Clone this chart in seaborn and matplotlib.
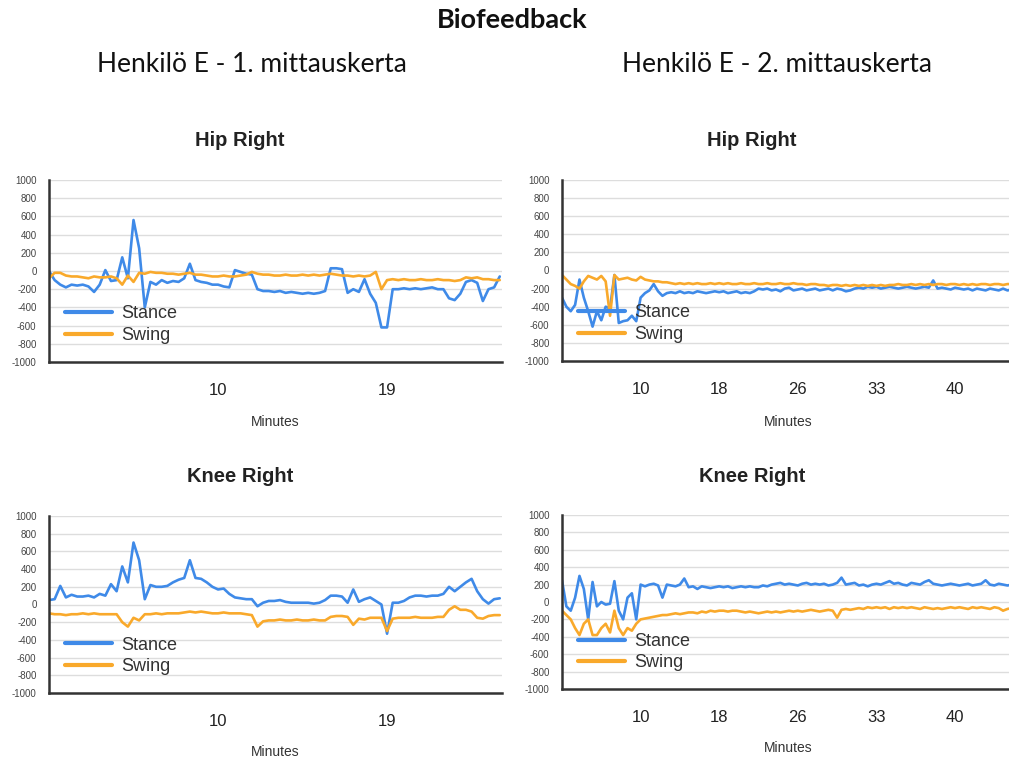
import numpy as np
import pandas as pd
import matplotlib
matplotlib.use("Agg")
import matplotlib.pyplot as plt
import seaborn as sns

# ---------------- data ----------------
main_title = "Biofeedback"
session_titles = ["Henkilö E - 1. mittauskerta", "Henkilö E - 2. mittauskerta"]
joint_titles = ["Hip Right", "Knee Right"]
series_names = ["Stance", "Swing"]
x_label = "Minutes"
y_ticks = [-1000, -800, -600, -400, -200, 0, 200, 400, 600, 800, 1000]

# session 1: 30 samples per tick interval
s1_tick_labels = ["10", "19"]
s1_tick_index = [30, 60]
# session 2: 18 samples per tick interval
s2_tick_labels = ["10", "18", "26", "33", "40"]
s2_tick_index = [18, 36, 54, 72, 90]

hip1_stance = [0, -100, -150, -180, -150, -160, -150, -170, -230, -150,
               10, -110, -100, 150, -80, 560, 250, -400, -120, -150,
               -100, -130, -110, -120, -80, 80, -100, -120, -130, -150,
               -150, -170, -180, 10, -10, -30, -40, -200, -220, -220,
               -230, -220, -240, -230, -240, -250, -240, -250, -240, -220,
               30, 30, 20, -240, -200, -230, -90, -250, -350, -620,
               -620, -200, -200, -190, -200, -190, -200, -190, -180, -200,
               -200, -300, -320, -250, -120, -100, -130, -330, -200, -180, -60]
hip1_swing = [-80, -20, -20, -50, -60, -60, -70, -80, -60, -70,
              -70, -60, -80, -150, -50, -120, -20, -30, -10, -20,
              -20, -30, -30, -40, -30, -20, -40, -40, -50, -60,
              -60, -50, -60, -60, -50, -40, -10, -30, -40, -40,
              -50, -50, -40, -50, -50, -40, -50, -40, -50, -40,
              -30, -40, -50, -50, -60, -50, -60, -50, -10, -200,
              -100, -90, -100, -90, -100, -100, -90, -100, -100, -90,
              -100, -100, -110, -100, -70, -80, -70, -90, -90, -100, -100]
knee1_stance = [50, 60, 210, 80, 110, 90, 90, 100, 80, 120,
                100, 230, 150, 430, 250, 700, 500, 60, 220, 200,
                200, 210, 250, 280, 300, 500, 300, 290, 250, 200,
                170, 180, 120, 80, 70, 60, 60, -20, 20, 40,
                40, 50, 30, 20, 20, 20, 20, 10, 20, 50,
                100, 100, 90, 20, 170, 30, 60, 80, 40, 0,
                -330, 20, 20, 40, 80, 100, 100, 90, 100, 100,
                120, 200, 150, 200, 250, 290, 150, 60, 10, 60, 70]
knee1_swing = [-100, -110, -110, -120, -110, -110, -100, -110, -100, -110,
               -110, -110, -110, -200, -250, -150, -180, -110, -110, -100,
               -110, -100, -100, -100, -90, -80, -90, -80, -90, -100,
               -100, -90, -100, -100, -100, -110, -120, -250, -190, -180,
               -180, -170, -180, -180, -170, -180, -180, -170, -180, -180,
               -140, -130, -130, -140, -230, -160, -170, -150, -150, -150,
               -300, -160, -150, -150, -150, -140, -150, -150, -150, -140,
               -140, -60, -20, -60, -60, -80, -150, -160, -130, -120, -120]

hip2_stance = [-300, -400, -450, -380, -100, -300, -450, -620, -450, -550,
               -400, -420, -50, -580, -560, -550, -500, -560, -300, -250,
               -220, -150, -230, -280, -250, -240, -250, -230, -250, -240,
               -250, -230, -240, -250, -240, -230, -240, -230, -250, -240,
               -230, -250, -240, -250, -230, -200, -210, -200, -220, -210,
               -230, -200, -190, -220, -210, -200, -220, -210, -200, -220,
               -210, -200, -220, -200, -210, -230, -220, -200, -190, -200,
               -180, -190, -180, -200, -190, -180, -190, -200, -190, -180,
               -190, -200, -190, -180, -190, -110, -200, -190, -200, -210,
               -190, -200, -210, -200, -220, -200, -210, -220, -200, -210,
               -220, -200, -220, -210]
hip2_swing = [-50, -100, -150, -170, -200, -120, -60, -80, -100, -60,
              -120, -500, -50, -100, -90, -80, -100, -110, -70, -100,
              -110, -120, -120, -130, -130, -140, -150, -140, -150, -140,
              -150, -140, -150, -150, -140, -150, -140, -150, -140, -150,
              -150, -140, -150, -150, -140, -150, -150, -140, -150, -150,
              -140, -150, -150, -140, -150, -150, -160, -150, -150, -160,
              -160, -170, -160, -160, -170, -160, -170, -160, -170, -160,
              -170, -160, -170, -160, -170, -160, -160, -150, -160, -160,
              -150, -160, -150, -160, -150, -160, -150, -150, -160, -150,
              -150, -160, -150, -160, -150, -160, -150, -150, -160, -150,
              -150, -160, -150, -150]
knee2_stance = [250, -50, -100, 50, 300, 150, -200, 230, -50, 0,
                -30, -20, 240, -100, -200, 50, 100, -200, 200, 180,
                200, 210, 190, 50, 200, 190, 180, 200, 270, 170,
                180, 150, 180, 170, 160, 170, 180, 170, 180, 160,
                170, 180, 170, 180, 170, 170, 190, 180, 200, 210,
                220, 200, 210, 200, 190, 210, 220, 200, 210, 200,
                210, 190, 200, 220, 280, 200, 210, 220, 190, 200,
                180, 200, 210, 200, 220, 240, 210, 220, 200, 190,
                220, 210, 200, 230, 250, 210, 200, 190, 200, 210,
                200, 190, 200, 210, 190, 200, 210, 250, 200, 190,
                210, 200, 190, 200]
knee2_swing = [-100, -150, -200, -300, -380, -250, -200, -380, -380, -300,
               -250, -350, -100, -300, -380, -300, -330, -250, -200, -190,
               -180, -170, -160, -150, -150, -140, -130, -140, -130, -120,
               -120, -130, -110, -120, -100, -110, -100, -100, -110, -100,
               -100, -110, -120, -110, -120, -130, -120, -110, -120, -110,
               -120, -110, -100, -110, -100, -110, -100, -90, -100, -110,
               -100, -90, -100, -180, -90, -80, -90, -80, -70, -80,
               -60, -70, -60, -70, -60, -80, -60, -70, -60, -70,
               -60, -70, -80, -60, -70, -80, -70, -80, -70, -60,
               -70, -60, -70, -80, -60, -70, -60, -70, -80, -60,
               -70, -100, -80, -70]

colors = {"Stance": "#3f8ae8", "Swing": "#f9a92b"}

# ---------------- figure ----------------
sns.set_style("white")
plt.rcParams["font.family"] = ["Liberation Sans", "DejaVu Sans"]

fig = plt.figure(figsize=(10.09, 7.6), dpi=100)

W, H = 1009.0, 760.0
def box(x0, y0, x1, y1):
    return [x0 / W, 1 - y1 / H, (x1 - x0) / W, (y1 - y0) / H]

panels = [
    (box(49, 180, 502, 362), hip1_stance, hip1_swing, s1_tick_index, s1_tick_labels, 80.4),
    (box(562, 180, 1014, 361), hip2_stance, hip2_swing, s2_tick_index, s2_tick_labels, 103.5),
    (box(49, 516, 502, 693), knee1_stance, knee1_swing, s1_tick_index, s1_tick_labels, 80.4),
    (box(562, 515, 1014, 689), knee2_stance, knee2_swing, s2_tick_index, s2_tick_labels, 103.5),
]

axes = []
for rect, stance, swing, tidx, tlab, xmax in panels:
    ax = fig.add_axes(rect)
    df = pd.DataFrame({
        "idx": list(range(len(stance))) + list(range(len(swing))),
        "value": stance + swing,
        "series": ["Stance"] * len(stance) + ["Swing"] * len(swing),
    })
    sns.lineplot(data=df, x="idx", y="value", hue="series", palette=colors,
                 linewidth=1.9, ax=ax, legend=True)
    ax.set_xlim(0, xmax)
    ax.set_ylim(-1000, 1000)
    ax.set_yticks(y_ticks)
    ax.set_yticklabels([str(v) for v in y_ticks], fontsize=7, color="#444444")
    ax.set_xticks(tidx)
    ax.set_xticklabels(tlab, fontsize=12, color="#222222")
    ax.tick_params(axis="x", length=3, width=0.8, color="#999999", pad=12)
    ax.tick_params(axis="y", length=0, pad=9)
    ax.set_xlabel("")
    ax.set_ylabel("")
    ax.grid(axis="y", color="#dddddd", linewidth=1.0)
    ax.set_axisbelow(True)
    for s in ["top", "right"]:
        ax.spines[s].set_visible(False)
    for s in ["left", "bottom"]:
        ax.spines[s].set_color("#333333")
        ax.spines[s].set_linewidth(1.8)
    handles, labels = ax.get_legend_handles_labels()
    leg = ax.legend(handles, labels, loc="lower left", bbox_to_anchor=(0.02, 0.06),
                    frameon=False, fontsize=13, handlelength=2.6, handletextpad=0.5,
                    labelspacing=0.25, borderaxespad=0)
    for ln in leg.get_lines():
        ln.set_linewidth(3)
    for t in leg.get_texts():
        t.set_color("#333333")
    leg.set_zorder(5)
    axes.append(ax)

# panel titles and axis labels
for (x, y, t) in [(240, 140, joint_titles[0]), (752, 140, joint_titles[0]),
                  (240, 477, joint_titles[1]), (752, 477, joint_titles[1])]:
    fig.text(x / W, 1 - y / H, t, ha="center", va="center",
             fontsize=14.5, fontweight="bold", color="#222222")
for (x, y) in [(275, 422), (788, 422), (275, 752), (788, 748)]:
    fig.text(x / W, 1 - y / H, x_label, ha="center", va="center",
             fontsize=10, color="#333333")

# header
hdr_font = ["Lato", "DejaVu Sans"]
fig.text(512 / W, 1 - 20 / H, main_title, ha="center", va="center",
         fontsize=19.5, fontweight="bold", family=hdr_font, color="#111111")
fig.text(252 / W, 1 - 65 / H, session_titles[0], ha="center", va="center",
         fontsize=19, family=hdr_font, color="#111111")
fig.text(777 / W, 1 - 65 / H, session_titles[1], ha="center", va="center",
         fontsize=19, family=hdr_font, color="#111111")

fig.savefig("out.png", dpi=100, facecolor="white")
